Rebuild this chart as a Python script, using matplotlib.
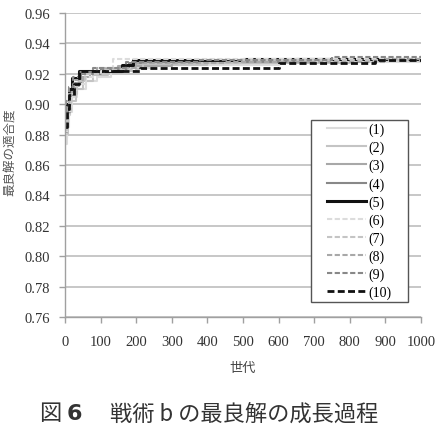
import matplotlib
matplotlib.use('Agg')
from matplotlib import pyplot as plt
from matplotlib.patches import Rectangle

plt.rcParams['font.family'] = ['Liberation Serif', 'Noto Sans CJK JP']

# generation breakpoints and best fitness values (step functions)
g1 = [0, 5, 10, 20, 35, 60, 90, 130, 250, 600, 1000]
v1 = [0.874, 0.885, 0.895, 0.905, 0.910, 0.915, 0.918, 0.924, 0.926, 0.928, 0.929]
g2 = [0, 8, 15, 30, 50, 80, 120, 200, 400, 800, 1000]
v2 = [0.880, 0.893, 0.902, 0.910, 0.915, 0.919, 0.922, 0.926, 0.927, 0.929, 0.930]
g3 = [0, 5, 12, 25, 40, 70, 150, 300, 700, 1000]
v3 = [0.885, 0.897, 0.905, 0.912, 0.918, 0.921, 0.925, 0.928, 0.929, 0.930]
g4 = [0, 6, 14, 28, 45, 100, 180, 320, 650, 1000]
v4 = [0.882, 0.895, 0.906, 0.914, 0.920, 0.923, 0.927, 0.928, 0.930, 0.931]
g5 = [0, 4, 10, 20, 40, 160, 190, 500, 1000]
v5 = [0.888, 0.900, 0.910, 0.917, 0.922, 0.926, 0.929, 0.930, 0.931]
g6 = [0, 5, 15, 30, 60, 100, 135, 400, 1000]
v6 = [0.878, 0.893, 0.905, 0.913, 0.918, 0.922, 0.930, 0.930, 0.931]
g7 = [0, 7, 18, 35, 55, 110, 220, 500, 1000]
v7 = [0.883, 0.896, 0.907, 0.915, 0.920, 0.923, 0.927, 0.929, 0.930]
g8 = [0, 5, 12, 25, 50, 90, 200, 450, 900, 1000]
v8 = [0.886, 0.898, 0.908, 0.916, 0.921, 0.924, 0.927, 0.928, 0.930, 0.930]
g9 = [0, 4, 10, 22, 38, 80, 170, 380, 750, 1000]
v9 = [0.890, 0.902, 0.911, 0.918, 0.921, 0.924, 0.928, 0.929, 0.931, 0.932]
g10 = [0, 5, 12, 25, 38, 210, 600, 870, 1000]
v10 = [0.885, 0.897, 0.906, 0.913, 0.922, 0.924, 0.927, 0.929, 0.929]

gens = [g1, g2, g3, g4, g5, g6, g7, g8, g9, g10]
vals = [v1, v2, v3, v4, v5, v6, v7, v8, v9, v10]
labels = ['(1)', '(2)', '(3)', '(4)', '(5)', '(6)', '(7)', '(8)', '(9)', '(10)']
colors = ['#dcdcdc', '#c4c4c4', '#a8a8a8', '#888888', '#111111',
          '#dcdcdc', '#c4c4c4', '#a8a8a8', '#888888', '#111111']
styles = ['-'] * 5 + ['--'] * 5
widths = [1.5, 1.5, 1.5, 1.5, 2.2, 1.5, 1.5, 1.5, 1.5, 2.0]

fig = plt.figure(figsize=(4.37, 4.27), dpi=100)
ax = fig.add_axes([65 / 437, 1 - 318 / 427, 356 / 437, 304 / 427])

for g, v, lab, c, ls, lw in zip(gens, vals, labels, colors, styles, widths):
    ax.plot(g, v, drawstyle='steps-post', color=c, linestyle=ls, linewidth=lw,
            label=lab, dashes=(2.5, 1.2) if ls == '--' else (None, None))

ax.set_xlim(0, 1000)
ax.set_ylim(0.76, 0.96)
ax.set_xticks(range(0, 1001, 100))
ax.set_yticks([0.76 + 0.02 * i for i in range(11)])
ax.set_yticklabels(['%.2f' % (0.76 + 0.02 * i) for i in range(11)])
ax.grid(axis='y', color='#bdbdbd', linewidth=1.2)
ax.set_axisbelow(True)
for s in ['top', 'right']:
    ax.spines[s].set_visible(False)
for s in ['left', 'bottom']:
    ax.spines[s].set_color('#a0a0a0')
    ax.spines[s].set_linewidth(1.0)
ax.tick_params(axis='both', colors='#a0a0a0', labelcolor='#333333', labelsize=10.5,
               length=4, width=1.0)
ax.tick_params(axis='y', pad=7)
ax.tick_params(axis='x', pad=9)

ax.set_xlabel('世代', fontsize=9.5, labelpad=9, color='#444444',
              family=['Noto Sans CJK JP'])
ax.set_ylabel('最良解の適合度', fontsize=9, color='#555555',
              family=['Noto Sans CJK JP'])
ax.yaxis.set_label_coords(-0.135, 0.545)

# legend box drawn as a plain rectangle, entries centred inside
box = (0.69, 0.049, 0.273, 0.6)
ax.add_patch(Rectangle(box[:2], box[2], box[3], transform=ax.transAxes,
                       facecolor='white', edgecolor='#555555', linewidth=1.0,
                       zorder=4))
leg = ax.legend(loc='center', bbox_to_anchor=(box[0] + box[2] / 2, box[1] + box[3] / 2),
                fontsize=10, handlelength=2.8, handletextpad=0.2,
                labelspacing=0.33, borderpad=0, frameon=False)
leg.set_zorder(5)

fig.text(39 / 437, 1 - 414 / 427, '図', ha='left', va='center',
         fontsize=16, color='#333333', family=['Noto Sans CJK JP'])
fig.text(67 / 437, 1 - 414 / 427, '6', ha='left', va='center', fontweight='bold',
         fontsize=16, color='#333333', family=['DejaVu Sans'])
fig.text(110 / 437, 1 - 414 / 427, '戦術 b の最良解の成長過程', ha='left', va='center',
         fontsize=16, color='#333333', family=['Noto Sans CJK JP'])

fig.savefig('out.png', dpi=100)
